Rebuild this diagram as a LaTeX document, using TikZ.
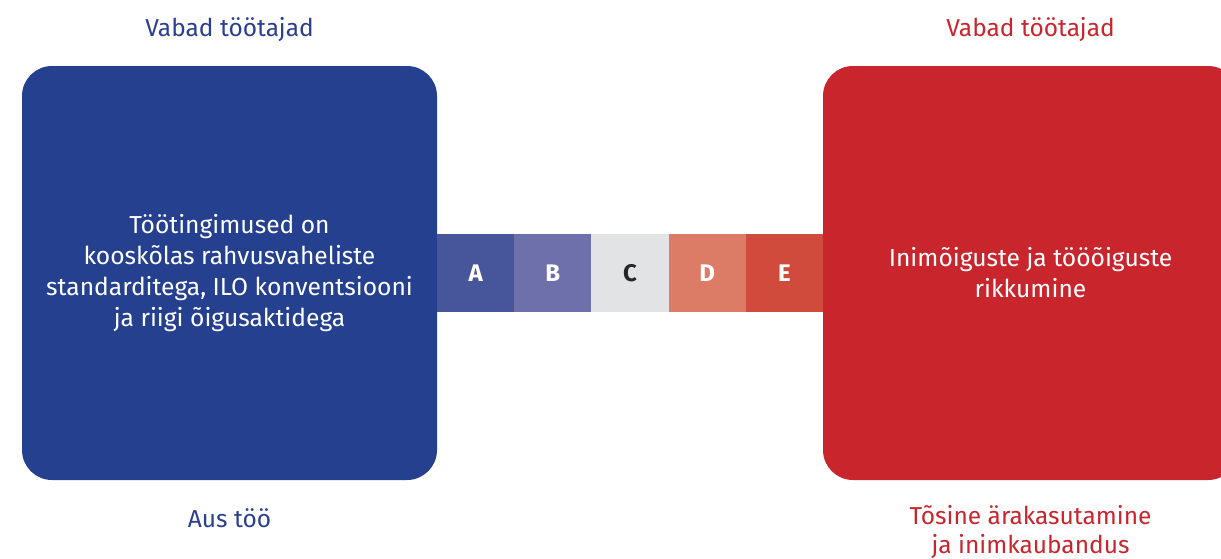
\documentclass[tikz,border=0pt]{standalone}
\usepackage{fontspec}
\setmainfont{Fira Sans}
\definecolor{leftblue}{RGB}{37,64,143}
\definecolor{rightred}{RGB}{201,37,45}
\definecolor{stepa}{RGB}{71,86,155}
\definecolor{stepb}{RGB}{109,112,170}
\definecolor{stepc}{RGB}{226,227,229}
\definecolor{stepd}{RGB}{220,124,103}
\definecolor{stepe}{RGB}{208,75,60}
\definecolor{labelblue}{RGB}{43,63,143}
\definecolor{labelred}{RGB}{201,37,45}
\tikzset{
  bigbox/.style={rounded corners=30pt, inner sep=0pt, minimum width=415pt, minimum height=414pt,
    align=center, text=white, font=\fontsize{24.6}{31}\selectfont},
  segbox/.style={inner sep=0pt, minimum width=77.2pt, minimum height=78pt,
    font=\fontsize{24}{26}\selectfont\bfseries, text=white},
  caption/.style={font=\fontsize{24.5}{29}\selectfont, align=center}
}
\begin{document}
\begin{tikzpicture}[x=1pt,y=-1pt]
  \useasboundingbox (0,0) rectangle (1221,558);
  \begin{scope}
    \clip (0,0) rectangle (1221,558);
    % the two end states
    \node[bigbox, fill=leftblue] (fair) at (229.5,273)
      {Töötingimused on\\kooskõlas rahvusvaheliste\\standarditega, ILO konventsiooni\\ja riigi õigusaktidega};
    \node[bigbox, fill=rightred] (abuse) at (1030.5,273)
      {Inimõiguste ja tööõiguste\\rikkumine};
    % the scale between them
    \node[segbox, fill=stepa] (a) at (475.6,273) {A};
    \node[segbox, fill=stepb] (b) at (552.8,273) {B};
    \node[segbox, fill=stepc, text=black!85] (c) at (630,273) {C};
    \node[segbox, fill=stepd] (d) at (707.2,273) {D};
    \node[segbox, fill=stepe] (e) at (784.4,273) {E};
    % labels above and below
    \node[caption, text=labelblue] (fairtop) at (229.5,30) {Vabad töötajad};
    \node[caption, text=labelred] (abusetop) at (1030.5,30) {Vabad töötajad};
    \node[caption, text=labelblue] (fairbottom) at (229.5,518) {Aus töö};
    \node[caption, text=labelred, anchor=north] (abusebottom) at (1030.5,502)
      {Tõsine ärakasutamine\\ja inimkaubandus};
  \end{scope}
\end{tikzpicture}
\end{document}
